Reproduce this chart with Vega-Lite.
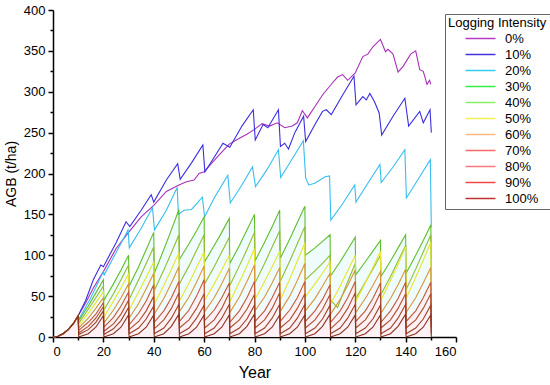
{
"$schema":"https://vega.github.io/schema/vega-lite/v6.json",
"width":403,"height":327,
"autosize":{"type":"none"},
"padding":{"left":53,"top":10,"right":94,"bottom":48},
"background":"white",
"config":{"view":{"stroke":null},"axis":{"grid":false,"domainColor":"black","tickColor":"black","labelColor":"black","titleColor":"black","labelFont":"Liberation Sans","titleFont":"Liberation Sans","domainWidth":1.5,"tickWidth":1.5,"titleFontWeight":"normal"}},
"data":{"values":[
{"s":"0%","x":0,"y":0},{"s":"0%","x":2,"y":1},{"s":"0%","x":4,"y":4},{"s":"0%","x":6,"y":9},{"s":"0%","x":8,"y":16},{"s":"0%","x":10,"y":26},{"s":"0%","x":13,"y":42},{"s":"0%","x":16,"y":60},{"s":"0%","x":20,"y":80},{"s":"0%","x":25,"y":108},{"s":"0%","x":30,"y":128},{"s":"0%","x":35,"y":147},{"s":"0%","x":40,"y":161},{"s":"0%","x":45,"y":178},{"s":"0%","x":50,"y":186},{"s":"0%","x":53,"y":190},{"s":"0%","x":56,"y":192},{"s":"0%","x":58,"y":200},{"s":"0%","x":60,"y":202},{"s":"0%","x":64,"y":216},{"s":"0%","x":67,"y":226},{"s":"0%","x":70,"y":236},{"s":"0%","x":74,"y":243},{"s":"0%","x":77,"y":248},{"s":"0%","x":80,"y":254},{"s":"0%","x":83,"y":261},{"s":"0%","x":86,"y":258},{"s":"0%","x":89,"y":262},{"s":"0%","x":92,"y":256},{"s":"0%","x":95,"y":258},{"s":"0%","x":97,"y":262},{"s":"0%","x":99,"y":277},{"s":"0%","x":101,"y":268},{"s":"0%","x":104,"y":282},{"s":"0%","x":107,"y":296},{"s":"0%","x":111,"y":311},{"s":"0%","x":113,"y":318},{"s":"0%","x":115,"y":321},{"s":"0%","x":117,"y":314},{"s":"0%","x":120,"y":323},{"s":"0%","x":123,"y":343},{"s":"0%","x":125,"y":346},{"s":"0%","x":127,"y":355},{"s":"0%","x":130,"y":364},{"s":"0%","x":132,"y":349},{"s":"0%","x":133,"y":352},{"s":"0%","x":135,"y":346},{"s":"0%","x":137,"y":324},{"s":"0%","x":139,"y":331},{"s":"0%","x":142,"y":346},{"s":"0%","x":144,"y":350},{"s":"0%","x":145.6,"y":327},{"s":"0%","x":147,"y":325},{"s":"0%","x":148.5,"y":309},{"s":"0%","x":149.5,"y":314},{"s":"0%","x":150,"y":309},
{"s":"10%","x":0,"y":0},{"s":"10%","x":2,"y":1},{"s":"10%","x":4,"y":4},{"s":"10%","x":6,"y":9},{"s":"10%","x":8,"y":16},{"s":"10%","x":10,"y":26},{"s":"10%","x":13,"y":45},{"s":"10%","x":16,"y":70},{"s":"10%","x":19,"y":88},{"s":"10%","x":20,"y":86},{"s":"10%","x":25,"y":115},{"s":"10%","x":29,"y":141},{"s":"10%","x":30.5,"y":135},{"s":"10%","x":35,"y":155},{"s":"10%","x":39,"y":174},{"s":"10%","x":40,"y":165},{"s":"10%","x":45,"y":192},{"s":"10%","x":49.5,"y":212},{"s":"10%","x":50.5,"y":193},{"s":"10%","x":55,"y":213},{"s":"10%","x":59.5,"y":235},{"s":"10%","x":60.3,"y":202},{"s":"10%","x":63,"y":215},{"s":"10%","x":67.5,"y":237},{"s":"10%","x":70.2,"y":232},{"s":"10%","x":75,"y":258},{"s":"10%","x":79.5,"y":278},{"s":"10%","x":80.3,"y":241},{"s":"10%","x":83.4,"y":260},{"s":"10%","x":85.3,"y":256},{"s":"10%","x":89.5,"y":278},{"s":"10%","x":90.3,"y":233},{"s":"10%","x":92,"y":237},{"s":"10%","x":93.5,"y":230},{"s":"10%","x":96,"y":250},{"s":"10%","x":99.5,"y":270},{"s":"10%","x":100.3,"y":239},{"s":"10%","x":104,"y":260},{"s":"10%","x":107,"y":276},{"s":"10%","x":108.5,"y":278},{"s":"10%","x":110.5,"y":272},{"s":"10%","x":115,"y":296},{"s":"10%","x":119.5,"y":319},{"s":"10%","x":120.3,"y":284},{"s":"10%","x":123,"y":294},{"s":"10%","x":124.4,"y":290},{"s":"10%","x":125.8,"y":298},{"s":"10%","x":127.6,"y":288},{"s":"10%","x":129.5,"y":274},{"s":"10%","x":130.5,"y":247},{"s":"10%","x":135,"y":270},{"s":"10%","x":139.7,"y":292},{"s":"10%","x":141.2,"y":258},{"s":"10%","x":145.6,"y":276},{"s":"10%","x":147,"y":262},{"s":"10%","x":149.7,"y":278},{"s":"10%","x":150.2,"y":250},
{"s":"20%","x":0,"y":0},{"s":"20%","x":2,"y":1},{"s":"20%","x":4,"y":4},{"s":"20%","x":6,"y":9},{"s":"20%","x":8,"y":16},{"s":"20%","x":10,"y":26},{"s":"20%","x":10.3,"y":22},{"s":"20%","x":15,"y":48},{"s":"20%","x":20,"y":80},{"s":"20%","x":20.3,"y":76},{"s":"20%","x":25,"y":103},{"s":"20%","x":29.8,"y":131},{"s":"20%","x":30.3,"y":109},{"s":"20%","x":35,"y":133},{"s":"20%","x":39.5,"y":158},{"s":"20%","x":40.3,"y":131},{"s":"20%","x":45,"y":155},{"s":"20%","x":49.3,"y":183},{"s":"20%","x":49.8,"y":150},{"s":"20%","x":52,"y":155},{"s":"20%","x":55,"y":156},{"s":"20%","x":59.3,"y":171},{"s":"20%","x":60.2,"y":147},{"s":"20%","x":64,"y":170},{"s":"20%","x":69.4,"y":198},{"s":"20%","x":70.4,"y":164},{"s":"20%","x":75,"y":186},{"s":"20%","x":79.2,"y":208},{"s":"20%","x":80.4,"y":184},{"s":"20%","x":85,"y":205},{"s":"20%","x":89.5,"y":229},{"s":"20%","x":90.4,"y":195},{"s":"20%","x":95,"y":218},{"s":"20%","x":99.4,"y":240},{"s":"20%","x":100.3,"y":195},{"s":"20%","x":101.5,"y":186},{"s":"20%","x":104,"y":188},{"s":"20%","x":108,"y":196},{"s":"20%","x":109.8,"y":197},{"s":"20%","x":110.3,"y":143},{"s":"20%","x":115,"y":163},{"s":"20%","x":119.8,"y":186},{"s":"20%","x":120.3,"y":165},{"s":"20%","x":125,"y":188},{"s":"20%","x":129.8,"y":211},{"s":"20%","x":130.3,"y":189},{"s":"20%","x":135,"y":208},{"s":"20%","x":139.7,"y":229},{"s":"20%","x":140.3,"y":170},{"s":"20%","x":145.6,"y":196},{"s":"20%","x":149.8,"y":217},{"s":"20%","x":150.2,"y":135},
{"s":"30%","x":0,"y":0},{"s":"30%","x":2,"y":1},{"s":"30%","x":4,"y":4},{"s":"30%","x":6,"y":9},{"s":"30%","x":8,"y":16},{"s":"30%","x":10,"y":26},{"s":"30%","x":10.2,"y":20},{"s":"30%","x":14,"y":38},{"s":"30%","x":17,"y":54},{"s":"30%","x":20,"y":70},{"s":"30%","x":20.2,"y":45},{"s":"30%","x":24,"y":65},{"s":"30%","x":27,"y":82},{"s":"30%","x":30,"y":100},{"s":"30%","x":30.2,"y":62},{"s":"30%","x":34,"y":86},{"s":"30%","x":37,"y":107},{"s":"30%","x":40,"y":128},{"s":"30%","x":40.2,"y":78},{"s":"30%","x":44,"y":107},{"s":"30%","x":47,"y":131},{"s":"30%","x":50,"y":156},{"s":"30%","x":50.2,"y":95},{"s":"30%","x":54,"y":114},{"s":"30%","x":57,"y":130},{"s":"30%","x":60,"y":147},{"s":"30%","x":60.2,"y":92},{"s":"30%","x":64,"y":112},{"s":"30%","x":67,"y":128},{"s":"30%","x":70,"y":145},{"s":"30%","x":70.2,"y":90},{"s":"30%","x":74,"y":112},{"s":"30%","x":77,"y":131},{"s":"30%","x":80,"y":150},{"s":"30%","x":80.2,"y":93},{"s":"30%","x":84,"y":116},{"s":"30%","x":87,"y":135},{"s":"30%","x":90,"y":155},{"s":"30%","x":90.2,"y":96},{"s":"30%","x":94,"y":120},{"s":"30%","x":97,"y":140},{"s":"30%","x":100,"y":160},{"s":"30%","x":100.2,"y":100},{"s":"30%","x":104,"y":109},{"s":"30%","x":107,"y":117},{"s":"30%","x":110,"y":125},{"s":"30%","x":110.2,"y":75},{"s":"30%","x":114,"y":92},{"s":"30%","x":117,"y":107},{"s":"30%","x":120,"y":122},{"s":"30%","x":120.2,"y":76},{"s":"30%","x":124,"y":92},{"s":"30%","x":127,"y":105},{"s":"30%","x":130,"y":118},{"s":"30%","x":130.2,"y":74},{"s":"30%","x":134,"y":93},{"s":"30%","x":137,"y":109},{"s":"30%","x":140,"y":125},{"s":"30%","x":140.2,"y":78},{"s":"30%","x":144,"y":100},{"s":"30%","x":147,"y":118},{"s":"30%","x":150,"y":137},{"s":"30%","x":150.2,"y":85},
{"s":"40%","x":0,"y":0},{"s":"40%","x":2,"y":1},{"s":"40%","x":4,"y":4},{"s":"40%","x":6,"y":9},{"s":"40%","x":8,"y":16},{"s":"40%","x":10,"y":26},{"s":"40%","x":10.2,"y":17},{"s":"40%","x":14,"y":34},{"s":"40%","x":17,"y":48},{"s":"40%","x":20,"y":62},{"s":"40%","x":20.2,"y":33},{"s":"40%","x":24,"y":53},{"s":"40%","x":27,"y":70},{"s":"40%","x":30,"y":88},{"s":"40%","x":30.2,"y":46},{"s":"40%","x":34,"y":70},{"s":"40%","x":37,"y":90},{"s":"40%","x":40,"y":110},{"s":"40%","x":40.2,"y":57},{"s":"40%","x":44,"y":82},{"s":"40%","x":47,"y":103},{"s":"40%","x":50,"y":125},{"s":"40%","x":50.2,"y":65},{"s":"40%","x":54,"y":87},{"s":"40%","x":57,"y":106},{"s":"40%","x":60,"y":125},{"s":"40%","x":60.2,"y":65},{"s":"40%","x":64,"y":86},{"s":"40%","x":67,"y":104},{"s":"40%","x":70,"y":122},{"s":"40%","x":70.2,"y":63},{"s":"40%","x":74,"y":87},{"s":"40%","x":77,"y":107},{"s":"40%","x":80,"y":128},{"s":"40%","x":80.2,"y":66},{"s":"40%","x":84,"y":90},{"s":"40%","x":87,"y":110},{"s":"40%","x":90,"y":130},{"s":"40%","x":90.2,"y":68},{"s":"40%","x":94,"y":93},{"s":"40%","x":97,"y":114},{"s":"40%","x":100,"y":135},{"s":"40%","x":100.2,"y":70},{"s":"40%","x":104,"y":81},{"s":"40%","x":107,"y":90},{"s":"40%","x":110,"y":100},{"s":"40%","x":110.2,"y":45},{"s":"40%","x":113,"y":36},{"s":"40%","x":116,"y":60},{"s":"40%","x":120,"y":90},{"s":"40%","x":120.2,"y":47},{"s":"40%","x":124,"y":67},{"s":"40%","x":127,"y":83},{"s":"40%","x":130,"y":100},{"s":"40%","x":130.2,"y":52},{"s":"40%","x":134,"y":74},{"s":"40%","x":137,"y":93},{"s":"40%","x":140,"y":112},{"s":"40%","x":140.2,"y":58},{"s":"40%","x":144,"y":83},{"s":"40%","x":147,"y":104},{"s":"40%","x":150,"y":125},{"s":"40%","x":150.2,"y":65},
{"s":"50%","x":0,"y":0},{"s":"50%","x":2,"y":1},{"s":"50%","x":4,"y":4},{"s":"50%","x":6,"y":9},{"s":"50%","x":8,"y":16},{"s":"50%","x":10,"y":26},{"s":"50%","x":10.2,"y":14},{"s":"50%","x":14,"y":29},{"s":"50%","x":17,"y":42},{"s":"50%","x":20,"y":55},{"s":"50%","x":20.2,"y":24},{"s":"50%","x":24,"y":44},{"s":"50%","x":27,"y":60},{"s":"50%","x":30,"y":77},{"s":"50%","x":30.2,"y":33},{"s":"50%","x":34,"y":55},{"s":"50%","x":37,"y":73},{"s":"50%","x":40,"y":92},{"s":"50%","x":40.2,"y":40},{"s":"50%","x":44,"y":63},{"s":"50%","x":47,"y":83},{"s":"50%","x":50,"y":103},{"s":"50%","x":50.2,"y":44},{"s":"50%","x":54,"y":66},{"s":"50%","x":57,"y":85},{"s":"50%","x":60,"y":104},{"s":"50%","x":60.2,"y":45},{"s":"50%","x":64,"y":65},{"s":"50%","x":67,"y":82},{"s":"50%","x":70,"y":100},{"s":"50%","x":70.2,"y":43},{"s":"50%","x":74,"y":67},{"s":"50%","x":77,"y":87},{"s":"50%","x":80,"y":108},{"s":"50%","x":80.2,"y":46},{"s":"50%","x":84,"y":68},{"s":"50%","x":87,"y":86},{"s":"50%","x":90,"y":105},{"s":"50%","x":90.2,"y":45},{"s":"50%","x":94,"y":71},{"s":"50%","x":97,"y":93},{"s":"50%","x":100,"y":115},{"s":"50%","x":100.2,"y":49},{"s":"50%","x":104,"y":65},{"s":"50%","x":107,"y":78},{"s":"50%","x":110,"y":92},{"s":"50%","x":110.2,"y":40},{"s":"50%","x":114,"y":62},{"s":"50%","x":117,"y":81},{"s":"50%","x":120,"y":100},{"s":"50%","x":120.2,"y":43},{"s":"50%","x":124,"y":66},{"s":"50%","x":127,"y":85},{"s":"50%","x":130,"y":105},{"s":"50%","x":130.2,"y":45},{"s":"50%","x":134,"y":69},{"s":"50%","x":137,"y":89},{"s":"50%","x":140,"y":110},{"s":"50%","x":140.2,"y":47},{"s":"50%","x":144,"y":73},{"s":"50%","x":147,"y":94},{"s":"50%","x":150,"y":116},{"s":"50%","x":150.2,"y":50},
{"s":"60%","x":0,"y":0},{"s":"60%","x":2,"y":1},{"s":"60%","x":4,"y":4},{"s":"60%","x":6,"y":9},{"s":"60%","x":8,"y":16},{"s":"60%","x":10,"y":26},{"s":"60%","x":10.2,"y":11},{"s":"60%","x":14,"y":23},{"s":"60%","x":17,"y":35},{"s":"60%","x":20,"y":48},{"s":"60%","x":20.2,"y":17},{"s":"60%","x":24,"y":33},{"s":"60%","x":27,"y":48},{"s":"60%","x":30,"y":65},{"s":"60%","x":30.2,"y":23},{"s":"60%","x":34,"y":41},{"s":"60%","x":37,"y":59},{"s":"60%","x":40,"y":78},{"s":"60%","x":40.2,"y":28},{"s":"60%","x":44,"y":47},{"s":"60%","x":47,"y":66},{"s":"60%","x":50,"y":86},{"s":"60%","x":50.2,"y":31},{"s":"60%","x":54,"y":49},{"s":"60%","x":57,"y":67},{"s":"60%","x":60,"y":87},{"s":"60%","x":60.2,"y":31},{"s":"60%","x":64,"y":48},{"s":"60%","x":67,"y":65},{"s":"60%","x":70,"y":84},{"s":"60%","x":70.2,"y":30},{"s":"60%","x":74,"y":49},{"s":"60%","x":77,"y":68},{"s":"60%","x":80,"y":88},{"s":"60%","x":80.2,"y":32},{"s":"60%","x":84,"y":49},{"s":"60%","x":87,"y":66},{"s":"60%","x":90,"y":85},{"s":"60%","x":90.2,"y":31},{"s":"60%","x":94,"y":50},{"s":"60%","x":97,"y":69},{"s":"60%","x":100,"y":90},{"s":"60%","x":100.2,"y":32},{"s":"60%","x":104,"y":47},{"s":"60%","x":107,"y":62},{"s":"60%","x":110,"y":78},{"s":"60%","x":110.2,"y":28},{"s":"60%","x":114,"y":46},{"s":"60%","x":117,"y":63},{"s":"60%","x":120,"y":82},{"s":"60%","x":120.2,"y":30},{"s":"60%","x":124,"y":47},{"s":"60%","x":127,"y":63},{"s":"60%","x":130,"y":80},{"s":"60%","x":130.2,"y":29},{"s":"60%","x":134,"y":47},{"s":"60%","x":137,"y":64},{"s":"60%","x":140,"y":83},{"s":"60%","x":140.2,"y":30},{"s":"60%","x":144,"y":48},{"s":"60%","x":147,"y":66},{"s":"60%","x":150,"y":85},{"s":"60%","x":150.2,"y":31},
{"s":"70%","x":0,"y":0},{"s":"70%","x":2,"y":1},{"s":"70%","x":4,"y":4},{"s":"70%","x":6,"y":9},{"s":"70%","x":8,"y":16},{"s":"70%","x":10,"y":26},{"s":"70%","x":10.2,"y":8},{"s":"70%","x":14,"y":18},{"s":"70%","x":17,"y":28},{"s":"70%","x":20,"y":42},{"s":"70%","x":20.2,"y":12},{"s":"70%","x":24,"y":24},{"s":"70%","x":27,"y":38},{"s":"70%","x":30,"y":55},{"s":"70%","x":30.2,"y":15},{"s":"70%","x":34,"y":29},{"s":"70%","x":37,"y":44},{"s":"70%","x":40,"y":64},{"s":"70%","x":40.2,"y":18},{"s":"70%","x":44,"y":32},{"s":"70%","x":47,"y":48},{"s":"70%","x":50,"y":68},{"s":"70%","x":50.2,"y":19},{"s":"70%","x":54,"y":33},{"s":"70%","x":57,"y":50},{"s":"70%","x":60,"y":70},{"s":"70%","x":60.2,"y":20},{"s":"70%","x":64,"y":33},{"s":"70%","x":67,"y":48},{"s":"70%","x":70,"y":66},{"s":"70%","x":70.2,"y":18},{"s":"70%","x":74,"y":32},{"s":"70%","x":77,"y":48},{"s":"70%","x":80,"y":68},{"s":"70%","x":80.2,"y":19},{"s":"70%","x":84,"y":32},{"s":"70%","x":87,"y":48},{"s":"70%","x":90,"y":67},{"s":"70%","x":90.2,"y":19},{"s":"70%","x":94,"y":33},{"s":"70%","x":97,"y":48},{"s":"70%","x":100,"y":68},{"s":"70%","x":100.2,"y":19},{"s":"70%","x":104,"y":32},{"s":"70%","x":107,"y":46},{"s":"70%","x":110,"y":64},{"s":"70%","x":110.2,"y":18},{"s":"70%","x":114,"y":32},{"s":"70%","x":117,"y":48},{"s":"70%","x":120,"y":68},{"s":"70%","x":120.2,"y":19},{"s":"70%","x":124,"y":32},{"s":"70%","x":127,"y":47},{"s":"70%","x":130,"y":66},{"s":"70%","x":130.2,"y":18},{"s":"70%","x":134,"y":32},{"s":"70%","x":137,"y":47},{"s":"70%","x":140,"y":67},{"s":"70%","x":140.2,"y":19},{"s":"70%","x":144,"y":32},{"s":"70%","x":147,"y":48},{"s":"70%","x":150,"y":67},{"s":"70%","x":150.2,"y":19},
{"s":"80%","x":0,"y":0},{"s":"80%","x":2,"y":1},{"s":"80%","x":4,"y":4},{"s":"80%","x":6,"y":9},{"s":"80%","x":8,"y":16},{"s":"80%","x":10,"y":26},{"s":"80%","x":10.2,"y":5},{"s":"80%","x":14,"y":13},{"s":"80%","x":17,"y":23},{"s":"80%","x":20,"y":37},{"s":"80%","x":20.2,"y":7},{"s":"80%","x":24,"y":16},{"s":"80%","x":27,"y":28},{"s":"80%","x":30,"y":45},{"s":"80%","x":30.2,"y":9},{"s":"80%","x":34,"y":19},{"s":"80%","x":37,"y":32},{"s":"80%","x":40,"y":50},{"s":"80%","x":40.2,"y":10},{"s":"80%","x":44,"y":21},{"s":"80%","x":47,"y":35},{"s":"80%","x":50,"y":54},{"s":"80%","x":50.2,"y":11},{"s":"80%","x":54,"y":21},{"s":"80%","x":57,"y":35},{"s":"80%","x":60,"y":53},{"s":"80%","x":60.2,"y":11},{"s":"80%","x":64,"y":21},{"s":"80%","x":67,"y":35},{"s":"80%","x":70,"y":54},{"s":"80%","x":70.2,"y":11},{"s":"80%","x":74,"y":21},{"s":"80%","x":77,"y":34},{"s":"80%","x":80,"y":52},{"s":"80%","x":80.2,"y":11},{"s":"80%","x":84,"y":21},{"s":"80%","x":87,"y":35},{"s":"80%","x":90,"y":54},{"s":"80%","x":90.2,"y":11},{"s":"80%","x":94,"y":21},{"s":"80%","x":97,"y":35},{"s":"80%","x":100,"y":53},{"s":"80%","x":100.2,"y":11},{"s":"80%","x":104,"y":21},{"s":"80%","x":107,"y":34},{"s":"80%","x":110,"y":52},{"s":"80%","x":110.2,"y":10},{"s":"80%","x":114,"y":21},{"s":"80%","x":117,"y":35},{"s":"80%","x":120,"y":54},{"s":"80%","x":120.2,"y":11},{"s":"80%","x":124,"y":21},{"s":"80%","x":127,"y":35},{"s":"80%","x":130,"y":54},{"s":"80%","x":130.2,"y":11},{"s":"80%","x":134,"y":21},{"s":"80%","x":137,"y":35},{"s":"80%","x":140,"y":53},{"s":"80%","x":140.2,"y":11},{"s":"80%","x":144,"y":21},{"s":"80%","x":147,"y":35},{"s":"80%","x":150,"y":53},{"s":"80%","x":150.2,"y":11},
{"s":"90%","x":0,"y":0},{"s":"90%","x":2,"y":1},{"s":"90%","x":4,"y":4},{"s":"90%","x":6,"y":9},{"s":"90%","x":8,"y":16},{"s":"90%","x":10,"y":26},{"s":"90%","x":10.2,"y":3},{"s":"90%","x":14,"y":9},{"s":"90%","x":17,"y":18},{"s":"90%","x":20,"y":32},{"s":"90%","x":20.2,"y":3},{"s":"90%","x":24,"y":10},{"s":"90%","x":27,"y":20},{"s":"90%","x":30,"y":36},{"s":"90%","x":30.2,"y":4},{"s":"90%","x":34,"y":11},{"s":"90%","x":37,"y":22},{"s":"90%","x":40,"y":38},{"s":"90%","x":40.2,"y":4},{"s":"90%","x":44,"y":11},{"s":"90%","x":47,"y":23},{"s":"90%","x":50,"y":40},{"s":"90%","x":50.2,"y":4},{"s":"90%","x":54,"y":11},{"s":"90%","x":57,"y":23},{"s":"90%","x":60,"y":39},{"s":"90%","x":60.2,"y":4},{"s":"90%","x":64,"y":11},{"s":"90%","x":67,"y":23},{"s":"90%","x":70,"y":40},{"s":"90%","x":70.2,"y":4},{"s":"90%","x":74,"y":11},{"s":"90%","x":77,"y":22},{"s":"90%","x":80,"y":39},{"s":"90%","x":80.2,"y":4},{"s":"90%","x":84,"y":11},{"s":"90%","x":87,"y":23},{"s":"90%","x":90,"y":40},{"s":"90%","x":90.2,"y":4},{"s":"90%","x":94,"y":11},{"s":"90%","x":97,"y":23},{"s":"90%","x":100,"y":40},{"s":"90%","x":100.2,"y":4},{"s":"90%","x":104,"y":11},{"s":"90%","x":107,"y":22},{"s":"90%","x":110,"y":39},{"s":"90%","x":110.2,"y":4},{"s":"90%","x":114,"y":11},{"s":"90%","x":117,"y":23},{"s":"90%","x":120,"y":40},{"s":"90%","x":120.2,"y":4},{"s":"90%","x":124,"y":11},{"s":"90%","x":127,"y":22},{"s":"90%","x":130,"y":39},{"s":"90%","x":130.2,"y":4},{"s":"90%","x":134,"y":11},{"s":"90%","x":137,"y":23},{"s":"90%","x":140,"y":40},{"s":"90%","x":140.2,"y":4},{"s":"90%","x":144,"y":11},{"s":"90%","x":147,"y":22},{"s":"90%","x":150,"y":39},{"s":"90%","x":150.2,"y":4},
{"s":"100%","x":0,"y":0},{"s":"100%","x":2,"y":1},{"s":"100%","x":4,"y":4},{"s":"100%","x":6,"y":9},{"s":"100%","x":8,"y":16},{"s":"100%","x":10,"y":26},{"s":"100%","x":10.2,"y":0},{"s":"100%","x":14,"y":4},{"s":"100%","x":17,"y":12},{"s":"100%","x":20,"y":26},{"s":"100%","x":20.2,"y":0},{"s":"100%","x":24,"y":4},{"s":"100%","x":27,"y":12},{"s":"100%","x":30,"y":27},{"s":"100%","x":30.2,"y":0},{"s":"100%","x":34,"y":4},{"s":"100%","x":37,"y":12},{"s":"100%","x":40,"y":27},{"s":"100%","x":40.2,"y":0},{"s":"100%","x":44,"y":4},{"s":"100%","x":47,"y":13},{"s":"100%","x":50,"y":28},{"s":"100%","x":50.2,"y":0},{"s":"100%","x":54,"y":4},{"s":"100%","x":57,"y":12},{"s":"100%","x":60,"y":27},{"s":"100%","x":60.2,"y":0},{"s":"100%","x":64,"y":4},{"s":"100%","x":67,"y":12},{"s":"100%","x":70,"y":27},{"s":"100%","x":70.2,"y":0},{"s":"100%","x":74,"y":4},{"s":"100%","x":77,"y":13},{"s":"100%","x":80,"y":28},{"s":"100%","x":80.2,"y":0},{"s":"100%","x":84,"y":4},{"s":"100%","x":87,"y":12},{"s":"100%","x":90,"y":27},{"s":"100%","x":90.2,"y":0},{"s":"100%","x":94,"y":4},{"s":"100%","x":97,"y":12},{"s":"100%","x":100,"y":27},{"s":"100%","x":100.2,"y":0},{"s":"100%","x":104,"y":4},{"s":"100%","x":107,"y":13},{"s":"100%","x":110,"y":28},{"s":"100%","x":110.2,"y":0},{"s":"100%","x":114,"y":4},{"s":"100%","x":117,"y":12},{"s":"100%","x":120,"y":27},{"s":"100%","x":120.2,"y":0},{"s":"100%","x":124,"y":4},{"s":"100%","x":127,"y":12},{"s":"100%","x":130,"y":27},{"s":"100%","x":130.2,"y":0},{"s":"100%","x":134,"y":4},{"s":"100%","x":137,"y":13},{"s":"100%","x":140,"y":28},{"s":"100%","x":140.2,"y":0},{"s":"100%","x":144,"y":4},{"s":"100%","x":147,"y":12},{"s":"100%","x":150,"y":27},{"s":"100%","x":150.2,"y":0}
]},
"layer":[
{"transform":[{"filter":"datum.s=='30%'"}],"mark":{"type":"area","color":"#f0fbfc","opacity":1},
 "encoding":{"x":{"field":"x","type":"quantitative","scale":{"domain":[0,160],"nice":false},"axis":null},
 "y":{"field":"y","type":"quantitative","scale":{"domain":[0,400],"nice":false},"axis":null}}},
{"transform":[{"filter":"datum.s=='70%'"}],"mark":{"type":"area","color":"#fef1f6","opacity":1},
 "encoding":{"x":{"field":"x","type":"quantitative","axis":{"orient":"bottom","values":[10,30,50,70,90,110,130,150],"labels":false,"tickSize":3,"domain":false,"title":null}},
 "y":{"field":"y","type":"quantitative","axis":{"orient":"left","values":[25,75,125,175,225,275,325,375],"labels":false,"tickSize":3,"domain":false,"title":null}}}},
{"mark":{"type":"line","strokeWidth":1.1},
 "encoding":{
 "x":{"field":"x","type":"quantitative","axis":{"orient":"bottom","values":[0,20,40,60,80,100,120,140,160],"tickSize":5,"labelFontSize":13,"labelPadding":3,"title":"Year","titleFontSize":16,"titlePadding":6}},
 "y":{"field":"y","type":"quantitative","axis":{"orient":"left","values":[0,50,100,150,200,250,300,350,400],"tickSize":5,"labelFontSize":13,"labelPadding":3,"title":"AGB (t/ha)","titleFontSize":14,"titlePadding":5}},
 "color":{"field":"s","type":"nominal","scale":{"domain":["0%","10%","20%","30%","40%","50%","60%","70%","80%","90%","100%"],"range":["#a830b8","#3a2ee0","#38bdf0","#5cbf2a","#93bd34","#e6e62e","#d8943c","#c0583a","#a8502c","#9c4026","#8a3420"]},"legend":null}
 }},
{"transform":[{"filter":"datum.x>1000"}],"mark":{"type":"line"},
 "encoding":{
 "x":{"field":"x","type":"quantitative","axis":null},
 "y":{"field":"y","type":"quantitative","axis":null},
 "color":{"field":"s","type":"nominal","scale":{"domain":["0%","10%","20%","30%","40%","50%","60%","70%","80%","90%","100%"],"range":["#b53bc0","#4433dd","#33ccee","#33ee44","#88ee66","#f5ee55","#f8b880","#f86868","#f87878","#f04848","#c03030"]},
  "legend":{"title":"Logging Intensity","orient":"none","legendX":392,"legendY":4,"titleFont":"Liberation Sans","titleFontSize":13,"titleFontWeight":"normal","titleColor":"black","labelFont":"Liberation Sans","labelFontSize":13,"labelColor":"black","symbolType":"M-6,0H6","symbolSize":25,"symbolStrokeWidth":1.5,"symbolOffset":26,"labelOffset":18,"padding":3,"rowPadding":2,"titlePadding":2,"strokeColor":"#666666","fillColor":"white"}}
 }}
],
"resolve":{"scale":{"color":"independent"},"axis":{"x":"independent","y":"independent"}}
}
